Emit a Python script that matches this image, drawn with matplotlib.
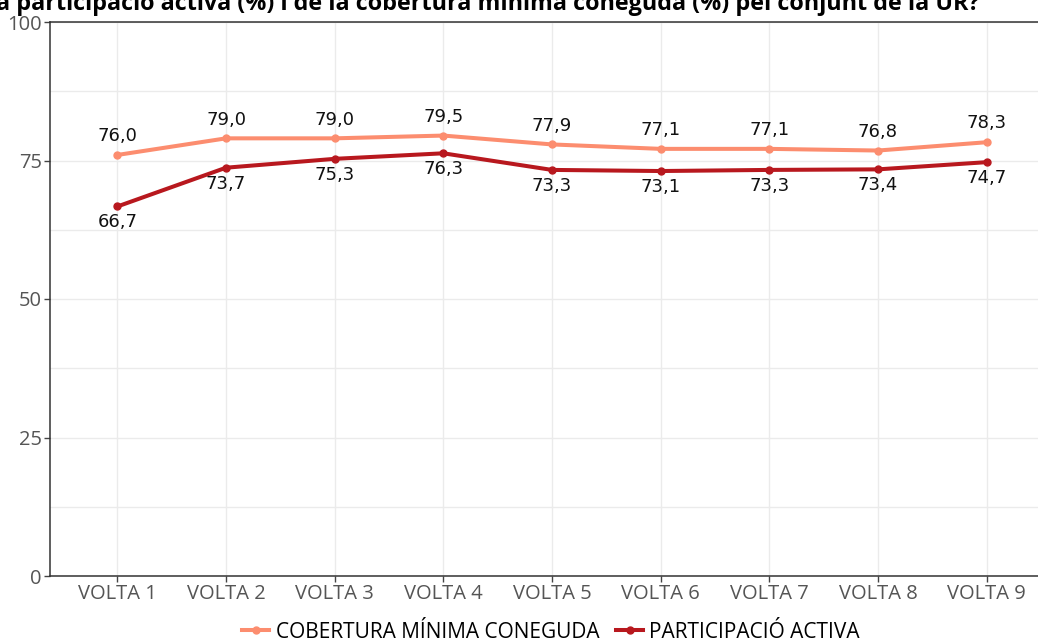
import matplotlib.pyplot as plt
from matplotlib.ticker import MultipleLocator

# dades
voltes = ['VOLTA 1', 'VOLTA 2', 'VOLTA 3', 'VOLTA 4', 'VOLTA 5',
          'VOLTA 6', 'VOLTA 7', 'VOLTA 8', 'VOLTA 9']
cobertura = [76.0, 79.0, 79.0, 79.5, 77.9, 77.1, 77.1, 76.8, 78.3]
participacio = [66.7, 73.7, 75.3, 76.3, 73.3, 73.1, 73.3, 73.4, 74.7]
y_ticks = [0, 25, 50, 75, 100]

titol = 'a participació activa (%) i de la cobertura mínima coneguda (%) pel conjunt de la UR?'

col_cob = '#FC8D6F'
col_par = '#B8181E'

plt.rcParams['font.family'] = ['Open Sans', 'DejaVu Sans']

fig = plt.figure(figsize=(10.38, 6.42), dpi=100)
ax = fig.add_axes([50 / 1038, 66 / 642, 1004 / 1038, 554 / 642])

x = list(range(len(voltes)))
ax.plot(x, cobertura, color=col_cob, lw=2.9, marker='o', ms=5,
        label='COBERTURA MÍNIMA CONEGUDA', zorder=3)
ax.plot(x, participacio, color=col_par, lw=2.9, marker='o', ms=5,
        label='PARTICIPACIÓ ACTIVA', zorder=3)

# etiquetes de valors
for i, v in enumerate(cobertura):
    ax.annotate(f'{v:.1f}'.replace('.', ','), (i, v), xytext=(0, 7),
                textcoords='offset points', ha='center', va='bottom',
                fontsize=13, family='DejaVu Sans', color='#111111')
for i, v in enumerate(participacio):
    ax.annotate(f'{v:.1f}'.replace('.', ','), (i, v), xytext=(0, -5),
                textcoords='offset points', ha='center', va='top',
                fontsize=13, family='DejaVu Sans', color='#111111')

ax.set_xlim(-0.62, 8.62)
ax.set_ylim(0, 100)
ax.set_xticks(x)
ax.set_xticklabels(voltes)
ax.set_yticks(y_ticks)
ax.yaxis.set_minor_locator(MultipleLocator(12.5))

ax.grid(True, which='major', color='#EBEBEB', lw=1)
ax.grid(True, which='minor', axis='y', color='#EBEBEB', lw=1)
ax.set_axisbelow(True)

ax.tick_params(axis='both', which='major', length=4, width=1, color='#444444',
               labelsize=14.5, labelcolor='#555555')
ax.tick_params(axis='y', which='minor', length=0)
ax.tick_params(axis='x', pad=2)
ax.tick_params(axis='y', pad=2)

for s in ['left', 'bottom', 'top']:
    ax.spines[s].set_color('#333333')
    ax.spines[s].set_linewidth(1.1)
ax.spines['right'].set_visible(False)

fig.text(-0.004, 1 - 10 / 642, titol, fontsize=16.8, fontweight='bold',
         ha='left', va='baseline', color='black')

fig.legend(loc='center', bbox_to_anchor=(0.531, 1 - 632 / 642), ncol=2,
           frameon=False, fontsize=15, handlelength=1.3, handletextpad=0.3,
           columnspacing=0.8)

fig.savefig('out.png', dpi=100)
